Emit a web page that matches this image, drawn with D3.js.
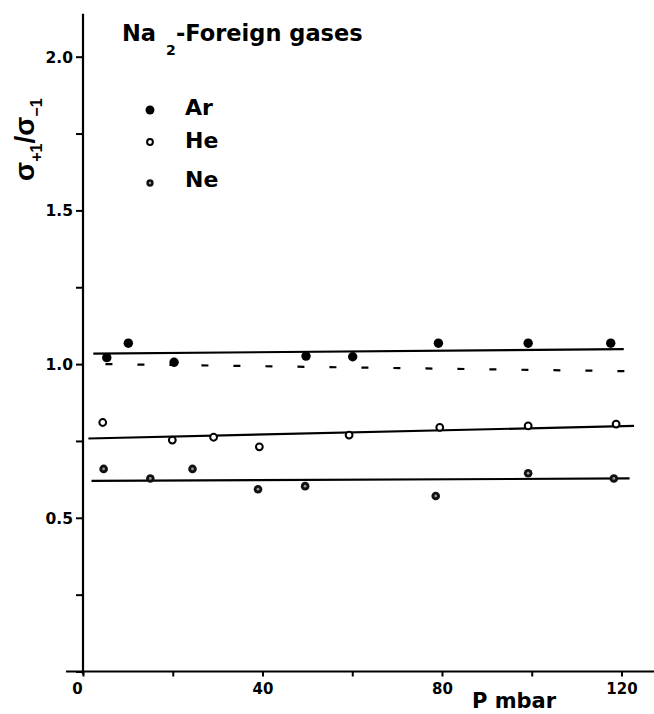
<!DOCTYPE html>
<html>
<head>
<meta charset="utf-8">
<script src="https://cdn.jsdelivr.net/npm/d3@7"></script>
<style>
  html, body { margin: 0; padding: 0; background: #fff; }
  svg { display: block; }
  text { font-family: "DejaVu Sans", Verdana, sans-serif; font-weight: bold; fill: #000; }
  .ylab { font-family: "Liberation Sans", Arial, Helvetica, sans-serif; }
</style>
</head>
<body>
<svg id="chart" width="654" height="714"></svg>
<script>
// ---- data ----
const arP = [5.3, 10.1, 20.3, 49.7, 60.1, 79.2, 99.2, 117.6];
const arR = [1.021, 1.068, 1.006, 1.026, 1.024, 1.068, 1.068, 1.068];

const heP = [4.4, 19.9, 29.1, 39.3, 59.3, 79.5, 99.2, 118.8];
const heR = [0.810, 0.753, 0.762, 0.731, 0.769, 0.794, 0.799, 0.805];

const neP = [4.6, 15.0, 24.4, 39.0, 49.5, 78.6, 99.2, 118.3];
const neR = [0.659, 0.628, 0.659, 0.593, 0.603, 0.571, 0.645, 0.628];

const arFitP = [2.3, 120.5];   const arFitR = [1.034, 1.049];
const heFitP = [1.2, 122.8];   const heFitR = [0.758, 0.799];
const neFitP = [1.9, 121.8];   const neFitR = [0.620, 0.628];
const refP   = [5.0, 126.0];   const refR   = [1.000, 0.976];

const xTicks = [0, 20, 40, 60, 80, 100, 120];
const xLabels = [0, 40, 80, 120];
const yTicks = [0, 0.25, 0.5, 0.75, 1.0, 1.25, 1.5, 1.75, 2.0];
const yLabels = [0.5, 1.0, 1.5, 2.0];

const legendNames = ["Ar", "He", "Ne"];

// ---- layout ----
const svg = d3.select("#chart");
const x = d3.scaleLinear().domain([0, 120]).range([83, 621.5]);
const y = d3.scaleLinear().domain([0, 2.0]).range([671.5, 56.7]);

// y axis
const yAxis = d3.axisLeft(y)
  .tickValues(yTicks)
  .tickSize(7)
  .tickSizeOuter(0)
  .tickFormat(d => yLabels.includes(d) ? d3.format(".1f")(d) : "");
const gy = svg.append("g").attr("transform", `translate(${x(0)},0)`).call(yAxis);
gy.select(".domain").remove();
gy.selectAll(".tick line").attr("stroke", "#000").attr("stroke-width", 2);
gy.selectAll(".tick text").attr("x", -10).attr("dy", "0.36em").style("font-size", "15.5px");
svg.append("line")
  .attr("x1", x(0)).attr("x2", x(0))
  .attr("y1", y(-0.01)).attr("y2", y(2.14))
  .attr("stroke", "#000").attr("stroke-width", 2.2);

// x axis
const xAxis = d3.axisBottom(x)
  .tickValues(xTicks)
  .tickSize(5)
  .tickSizeOuter(0)
  .tickFormat(d => xLabels.includes(d) ? String(d) : "");
const gx = svg.append("g").attr("transform", `translate(0,${y(0)})`).call(xAxis);
gx.select(".domain").remove();
gx.selectAll(".tick line").attr("stroke", "#000").attr("stroke-width", 2);
gx.selectAll(".tick text").attr("y", 22.5).attr("dy", 0).style("font-size", "15px");
gx.selectAll(".tick text").filter(d => d === 0).attr("x", -6);
svg.selectAll(".tick text").attr("font-family", null).attr("font-size", null);
svg.append("line")
  .attr("x1", x(-3.8)).attr("x2", 654)
  .attr("y1", y(0)).attr("y2", y(0))
  .attr("stroke", "#000").attr("stroke-width", 2.2);

// axis titles
svg.append("text")
  .attr("x", 472).attr("y", 708)
  .style("font-size", "21px")
  .text("P mbar");

const yl = svg.append("text")
  .attr("class", "ylab")
  .attr("transform", "translate(34,181) rotate(-90)")
  .style("font-size", "28px");
yl.append("tspan").text("σ");
yl.append("tspan").attr("dy", 8).style("font-size", "16px").text("+1");
yl.append("tspan").attr("dy", -8).text("/σ");
yl.append("tspan").attr("dy", 8).style("font-size", "16px").text("−1");

// fit lines
const line = d3.line().x(d => x(d[0])).y(d => y(d[1]));
function fit(P, R, dash) {
  svg.append("path")
    .datum(P.map((p, i) => [p, R[i]]))
    .attr("d", line)
    .attr("fill", "none")
    .attr("stroke", "#000")
    .attr("stroke-width", 2.2)
    .attr("stroke-dasharray", dash || null);
}
fit(arFitP, arFitR);
fit(heFitP, heFitR);
fit(neFitP, neFitR);
fit(refP, refR, "7,25");

// markers
function drawMarker(g, kind, cx, cy, s) {
  if (kind === "Ar") {
    g.append("circle").attr("cx", cx).attr("cy", cy).attr("r", 4.7 * s).attr("fill", "#000");
  } else if (kind === "He") {
    g.append("circle").attr("cx", cx).attr("cy", cy).attr("r", 3.4 * s)
      .attr("fill", "#fff").attr("stroke", "#000").attr("stroke-width", 2);
  } else {
    g.append("circle").attr("cx", cx).attr("cy", cy).attr("r", 4.3 * s).attr("fill", "#111");
    g.append("circle").attr("cx", cx).attr("cy", cy).attr("r", 1.4 * s).attr("fill", "#999");
  }
}
const pts = svg.append("g");
arP.forEach((p, i) => drawMarker(pts, "Ar", x(p), y(arR[i]), 1));
heP.forEach((p, i) => drawMarker(pts, "He", x(p), y(heR[i]), 1));
neP.forEach((p, i) => drawMarker(pts, "Ne", x(p), y(neR[i]), 1));

// title
const t = svg.append("text").attr("x", 122).attr("y", 41).style("font-size", "22.5px");
t.append("tspan").text("Na");
t.append("tspan").attr("x", 166).attr("dy", 14).style("font-size", "14px").text("2");
t.append("tspan").attr("x", 176).attr("dy", -14).text("-Foreign gases");

// legend
const legY = [110, 142, 183];
const legBase = [115, 148, 187];
const lg = svg.append("g");
legendNames.forEach((n, i) => {
  drawMarker(lg, n, 150, legY[i], n === "Ar" ? 0.95 : 0.85);
  lg.append("text").attr("x", 185).attr("y", legBase[i]).style("font-size", "22px").text(n);
});
</script>
</body>
</html>
